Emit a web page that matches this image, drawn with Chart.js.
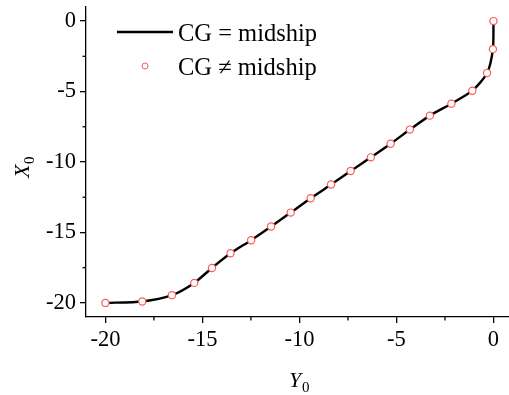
<!DOCTYPE html>
<html>
<head>
<meta charset="utf-8">
<script src="https://cdn.jsdelivr.net/npm/chart.js@4.4.0/dist/chart.umd.min.js"></script>
<style>
  html, body { margin: 0; padding: 0; background: #fff; }
  #wrap { width: 509px; height: 395px; }
</style>
</head>
<body>
<div id="wrap"><canvas id="chart"></canvas></div>
<script>
// values (Y0 on x axis, X0 on y axis)
const y0Values = [-20, -18.1, -16.57, -15.42, -14.51, -13.55, -12.49, -11.46, -10.45, -9.42, -8.37, -7.36, -6.32, -5.3, -4.31, -3.28, -2.17, -1.09, -0.33, -0.03, 0];
const x0Values = [-20, -19.9, -19.45, -18.58, -17.52, -16.48, -15.55, -14.58, -13.59, -12.57, -11.6, -10.64, -9.67, -8.7, -7.7, -6.71, -5.86, -4.94, -3.69, -1.99, 0];
const xTicks = [-20, -15, -10, -5, 0];
const yTicks = [-20, -15, -10, -5, 0];
const seriesNames = ['CG = midship', 'CG \u2260 midship'];

const serif = '"Liberation Serif", "Times New Roman", serif';
const pts = y0Values.map((v, i) => ({ x: v, y: x0Values[i] }));

// minor ticks, axis titles with subscripts, legend inside the plot
const extras = {
    id: 'extras',
    afterDraw(chart) {
        const ctx = chart.ctx;
        const xs = chart.scales.x, ys = chart.scales.y;
        const area = chart.chartArea;
        ctx.save();
        ctx.strokeStyle = '#000';
        ctx.lineWidth = 1.3;
        // minor ticks
        for (let v = -17.5; v < 0; v += 5) {
            const px = xs.getPixelForValue(v);
            ctx.beginPath(); ctx.moveTo(px, area.bottom); ctx.lineTo(px, area.bottom + 3.5); ctx.stroke();
        }
        for (let v = -17.5; v < 0; v += 5) {
            const py = ys.getPixelForValue(v);
            ctx.beginPath(); ctx.moveTo(area.left, py); ctx.lineTo(area.left - 3.5, py); ctx.stroke();
        }
        ctx.fillStyle = '#000';
        ctx.textBaseline = 'alphabetic';
        ctx.textAlign = 'left';
        // Y0 title
        ctx.font = 'italic 22px ' + serif;
        ctx.fillText('Y', 289, 387);
        ctx.font = '15px ' + serif;
        ctx.fillText('0', 302, 392);
        // X0 title, rotated
        ctx.save();
        ctx.translate(29, 178);
        ctx.rotate(-Math.PI / 2);
        ctx.font = 'italic 22px ' + serif;
        ctx.fillText('X', 0, 0);
        ctx.font = '15px ' + serif;
        ctx.fillText('0', 14, 5);
        ctx.restore();
        // legend
        ctx.beginPath();
        ctx.lineWidth = 2.4;
        ctx.moveTo(117, 32); ctx.lineTo(173, 32); ctx.stroke();
        ctx.font = '24.5px ' + serif;
        ctx.fillText(seriesNames[0], 178, 41);
        ctx.beginPath();
        ctx.lineWidth = 1;
        ctx.strokeStyle = '#ff5a5a';
        ctx.arc(145, 66, 3, 0, Math.PI * 2); ctx.stroke();
        ctx.fillText(seriesNames[1], 178, 75);
        ctx.restore();
    }
};

function noEdgePad(s) {
    s.paddingTop = 0; s.paddingBottom = 0; s.paddingLeft = 0; s.paddingRight = 0;
}

new Chart(document.getElementById('chart'), {
    type: 'scatter',
    data: {
        datasets: [{
            label: seriesNames[0],
            data: pts,
            showLine: true,
            borderColor: '#000',
            borderWidth: 2.4,
            tension: 0.25,
            pointRadius: 0,
            order: 2
        }, {
            label: seriesNames[1],
            data: pts,
            showLine: false,
            pointRadius: 3.6,
            pointBorderWidth: 1.2,
            pointBorderColor: '#ff5a5a',
            pointBackgroundColor: '#fff',
            clip: false,
            order: 1
        }]
    },
    plugins: [extras],
    options: {
        responsive: true,
        maintainAspectRatio: false,
        animation: false,
        layout: { autoPadding: false, padding: { top: 7, right: 0, left: 0, bottom: 0 } },
        plugins: { legend: { display: false }, tooltip: { enabled: false } },
        scales: {
            x: {
                type: 'linear',
                min: -21,
                max: 0.8,
                afterBuildTicks: s => { s.ticks = xTicks.map(v => ({ value: v })); },
                afterFit: s => { s.height = 78; noEdgePad(s); },
                border: { color: '#000', width: 1.3 },
                grid: { drawOnChartArea: false, drawTicks: true, tickLength: 6, color: '#000', lineWidth: 1.3 },
                ticks: { color: '#000', font: { family: serif, size: 22.5 }, padding: 4 }
            },
            y: {
                type: 'linear',
                min: -21,
                max: 1,
                afterBuildTicks: s => { s.ticks = yTicks.map(v => ({ value: v })); },
                afterFit: s => { s.width = 86; noEdgePad(s); },
                border: { color: '#000', width: 1.3 },
                grid: { drawOnChartArea: false, drawTicks: true, tickLength: 6, color: '#000', lineWidth: 1.3 },
                ticks: { color: '#000', font: { family: serif, size: 22.5 }, padding: 4 }
            }
        }
    }
});
</script>
</body>
</html>
